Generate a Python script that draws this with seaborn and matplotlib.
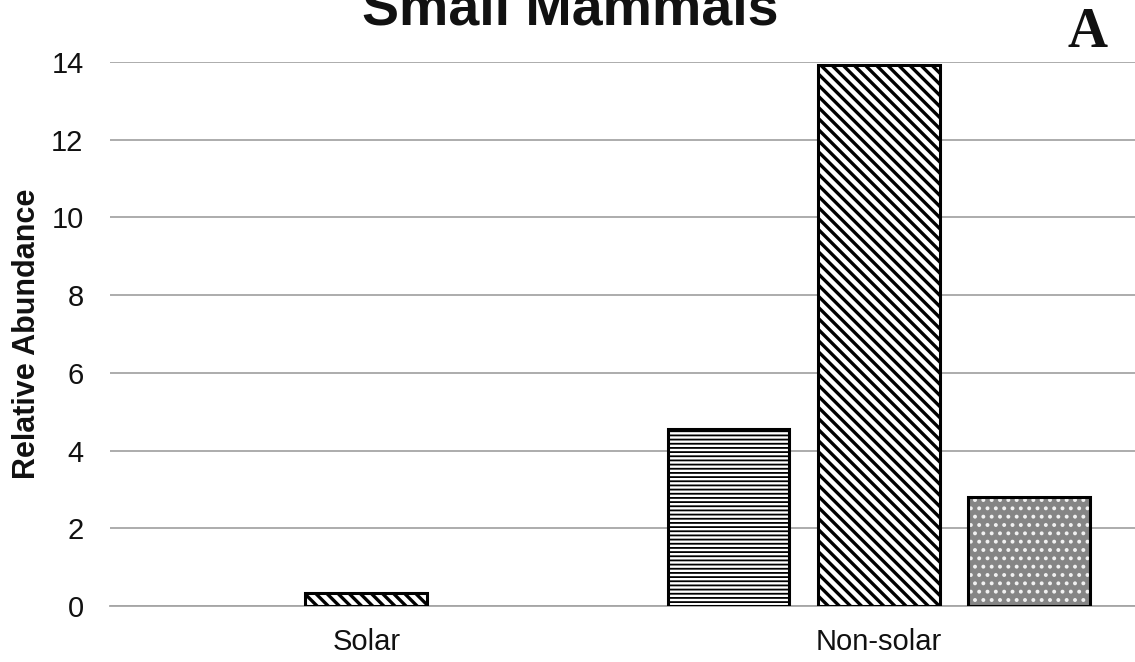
import matplotlib
matplotlib.use("Agg")
import matplotlib.pyplot as plt
from matplotlib.patches import Rectangle
import pandas as pd
import seaborn as sns

# Relative abundance of small mammals by site type
sites = ["Solar", "Non-solar"]
groups = ["Group 1", "Group 2", "Group 3"]
solar_values = [0.0, 0.33, 0.0]
nonsolar_values = [4.55, 13.92, 2.80]
y_ticks = [0, 2, 4, 6, 8, 10, 12, 14]

df = pd.DataFrame({
    "site": [s for s in sites for _ in groups],
    "group": groups * len(sites),
    "abundance": solar_values + nonsolar_values,
})

sns.set_theme(style="white")
plt.rcParams["font.family"] = ["Liberation Sans", "DejaVu Sans"]
plt.rcParams["hatch.linewidth"] = 1.6

fig = plt.figure(figsize=(11.35, 6.62), dpi=100)
ax = fig.add_axes([110 / 1135, 56 / 662, 1025 / 1135, 544 / 662])

sns.barplot(data=df, x="site", y="abundance", hue="group",
            order=sites, hue_order=groups,
            palette=["white", "white", "white"],
            width=0.88, gap=0.19, errorbar=None, legend=False,
            ax=ax, zorder=3)

hatches = ["----", "\\\\\\", ".."]
hatch_widths = [1.3, 2.4, 1.6]
for container, hatch, hw in zip(ax.containers, hatches, hatch_widths):
    for bar in container:
        if bar.get_height() <= 0:
            bar.set_visible(False)
            continue
        bar.set_hatch(hatch)
        if hasattr(bar, "set_hatch_linewidth"):
            bar.set_hatch_linewidth(hw)
        if hatch == "..":
            # grey stippled fill with light dots, black outline drawn on top
            bar.set_facecolor("#858585")
            bar.set_edgecolor("#f2f2f2")
            bar.set_linewidth(0)
            ax.add_patch(Rectangle(bar.get_xy(), bar.get_width(), bar.get_height(),
                                   fill=False, edgecolor="black", linewidth=2.2,
                                   zorder=4))
        else:
            bar.set_facecolor("white")
            bar.set_edgecolor("black")
            bar.set_linewidth(2.2)

ax.set_ylim(0, 14)
ax.set_xlim(-0.5, 1.5)
ax.set_yticks(y_ticks)
ax.set_yticklabels([str(v) for v in y_ticks])
ax.yaxis.grid(True, color="#a6a6a6", linewidth=1.3, zorder=0)
ax.set_axisbelow(True)
for side in ["top", "right", "left"]:
    ax.spines[side].set_visible(False)
ax.spines["bottom"].set_color("#a6a6a6")
ax.spines["bottom"].set_linewidth(1.3)
ax.tick_params(axis="y", length=0, pad=19, labelsize=21, labelcolor="#111111")
ax.tick_params(axis="x", length=0, pad=16, labelsize=21, labelcolor="#111111")

ax.set_xlabel("")
ax.set_ylabel("Relative Abundance", fontsize=22, fontweight="bold",
              color="#111111")
ax.yaxis.set_label_coords(-0.066, 0.5)

fig.text(0.502, 0.9637, "Small Mammals", ha="center", va="baseline",
         fontsize=40, fontweight="bold", color="#111111")
fig.text(0.958, 0.929, "A", ha="center", va="baseline", fontsize=40,
         fontweight="bold", family=["Liberation Serif", "DejaVu Serif"],
         color="#111111")

fig.savefig("out.png", dpi=100)
